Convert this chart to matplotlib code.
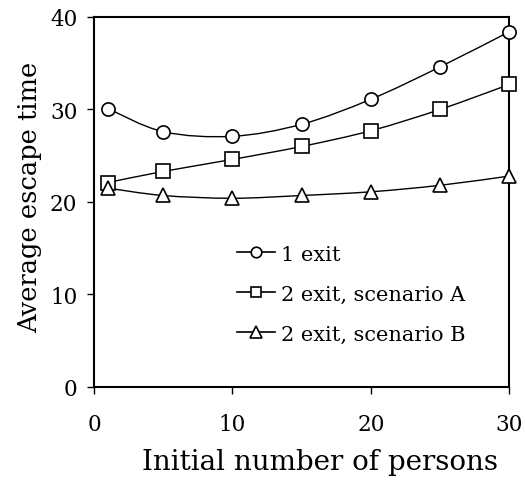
import matplotlib
matplotlib.use("Agg")
import matplotlib.pyplot as plt
from matplotlib.path import Path
from matplotlib.patches import PathPatch
from matplotlib.lines import Line2D
import numpy as np

persons = [1, 5, 10, 15, 20, 25, 30]
one_exit = [30.1, 27.6, 27.1, 28.4, 31.1, 34.6, 38.4]
two_exit_a = [22.1, 23.3, 24.6, 26.0, 27.7, 30.0, 32.7]
two_exit_b = [21.5, 20.7, 20.4, 20.7, 21.1, 21.8, 22.8]
labels = ["1 exit", "2 exit, scenario A", "2 exit, scenario B"]
markers = ["o", "s", "^"]

plt.rcParams["font.family"] = ["DejaVu Serif"]


def smooth_path(x, y, tension=1.0 / 6):
    # Catmull-Rom style bezier through the points (like a spreadsheet "smoothed line")
    pts = np.column_stack([x, y]).astype(float)
    verts = [tuple(pts[0])]
    codes = [Path.MOVETO]
    n = len(pts)
    for i in range(n - 1):
        p0 = pts[i - 1] if i > 0 else pts[i]
        p1 = pts[i]
        p2 = pts[i + 1]
        p3 = pts[i + 2] if i + 2 < n else pts[i + 1]
        c1 = p1 + (p2 - p0) * tension
        c2 = p2 - (p3 - p1) * tension
        verts += [tuple(c1), tuple(c2), tuple(p2)]
        codes += [Path.CURVE4] * 3
    return Path(verts, codes)


fig = plt.figure(figsize=(5.25, 4.85), dpi=100)
ax = fig.add_axes([0.179, 0.2, 0.791, 0.763])

handles = []
for series, mk, lab in zip([one_exit, two_exit_a, two_exit_b], markers, labels):
    patch = PathPatch(smooth_path(persons, series), facecolor="none",
                      edgecolor="black", lw=1.0, clip_on=False)
    ax.add_patch(patch)
    ms = 9.5 if mk != "^" else 10
    ax.plot(persons, series, ls="none", marker=mk, ms=ms, mfc="white",
            mec="black", mew=1.2, clip_on=False, zorder=3)
    handles.append(Line2D([], [], color="black", lw=1.2, marker=mk, ms=ms * 0.8,
                          mfc="white", mec="black", mew=1.2, label=lab))

ax.set_xlim(0, 30)
ax.set_ylim(0, 40)
ax.set_xticks([0, 10, 20, 30])
ax.set_yticks([0, 10, 20, 30, 40])
ax.tick_params(direction="out", length=5, width=1, labelsize=15.5, pad=7)
ax.tick_params(axis="x", pad=14)
for sp in ax.spines.values():
    sp.set_linewidth(1.5)

ax.set_xlabel("Initial number of persons", fontsize=20)
ax.set_ylabel("Average escape time", fontsize=18.5)
ax.xaxis.set_label_coords(0.545, -0.2, transform=ax.transAxes)
ax.yaxis.set_label_coords(-0.154, 0.516, transform=ax.transAxes)
ax.xaxis.label.set_va("center")
ax.yaxis.label.set_va("center")

ax.legend(handles=handles, loc="center left", bbox_to_anchor=(0.345, 0.251),
          frameon=False, fontsize=15, handlelength=1.8, handletextpad=0.3,
          labelspacing=1.0, borderaxespad=0, borderpad=0)

fig.savefig("out.png", dpi=100)
